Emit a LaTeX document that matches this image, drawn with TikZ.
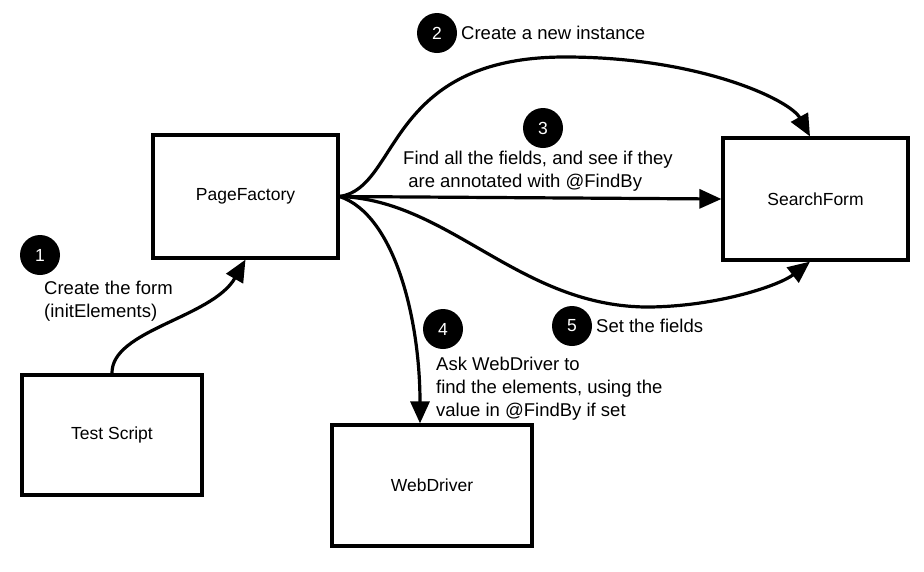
\documentclass[tikz,border=0pt]{standalone}
\usepackage{fontspec}
\setmainfont{Liberation Sans}
\usetikzlibrary{arrows.meta}
\begin{document}
\begin{tikzpicture}[x=1pt,y=-1pt,
  box/.style={draw,line width=3.2pt,minimum width=#1,inner sep=0pt,font=\fontsize{17.5}{21}\selectfont},
  num/.style={circle,fill=black,minimum size=40pt,inner sep=0pt,text=white,font=\fontsize{17.5}{21}\selectfont},
  lbl/.style={align=left,inner sep=0pt,font=\fontsize{18.5}{22.8}\selectfont},
  conn/.style={line width=3.2pt,-{Triangle[length=22pt,width=19pt]}}]
\useasboundingbox (0,0) rectangle (924,571);
\node[box=185pt,minimum height=123pt] (pf) at (245.5,196.5) {PageFactory};
\node[box=185pt,minimum height=122pt] (sf) at (815.5,199) {SearchForm};
\node[box=180pt,minimum height=120pt] (ts) at (112,435) {Test Script};
\node[box=200pt,minimum height=121pt] (wd) at (432,485.5) {WebDriver};
\node[num] (n1) at (40,255) {1};
\node[num] (n2) at (437,33) {2};
\node[num] (n3) at (543,128) {3};
\node[num] (n4) at (443,329) {4};
\node[num] (n5) at (572,326) {5};
\node[lbl,anchor=north west] (t1) at (44,281) {Create the form\\(initElements)};
\node[lbl,anchor=west] (t2) at (461,33) {Create a new instance};
\node[lbl,anchor=north west] (t3) at (403,151) {Find all the fields, and see if they\\\ are annotated with @FindBy};
\node[lbl,anchor=west] (t5) at (596,326) {Set the fields};
\node[lbl,anchor=north west] (t4) at (436,357) {Ask WebDriver to\\find the elements, using the\\value in @FindBy if set};
\coordinate (sft) at (sf.north -| 810,0);
\coordinate (sfb) at (sf.south -| 810,0);
\coordinate (wdt) at (wd.north -| 420,0);
\draw[conn] (ts.north) .. controls (111,330) and (212,318) .. (pf.south);
\draw[conn] (pf.east) .. controls (400,188) and (385,57) .. (565,57) .. controls (700,57) and (790,100) .. (sft);
\draw[conn] (pf.east) -- (sf.west);
\draw[conn] (pf.east) .. controls (450,200) and (520,308) .. (650,307) .. controls (720,306) and (780,285) .. (sfb);
\draw[conn] (pf.east) .. controls (395,215) and (420,320) .. (wdt);
\end{tikzpicture}
\end{document}
